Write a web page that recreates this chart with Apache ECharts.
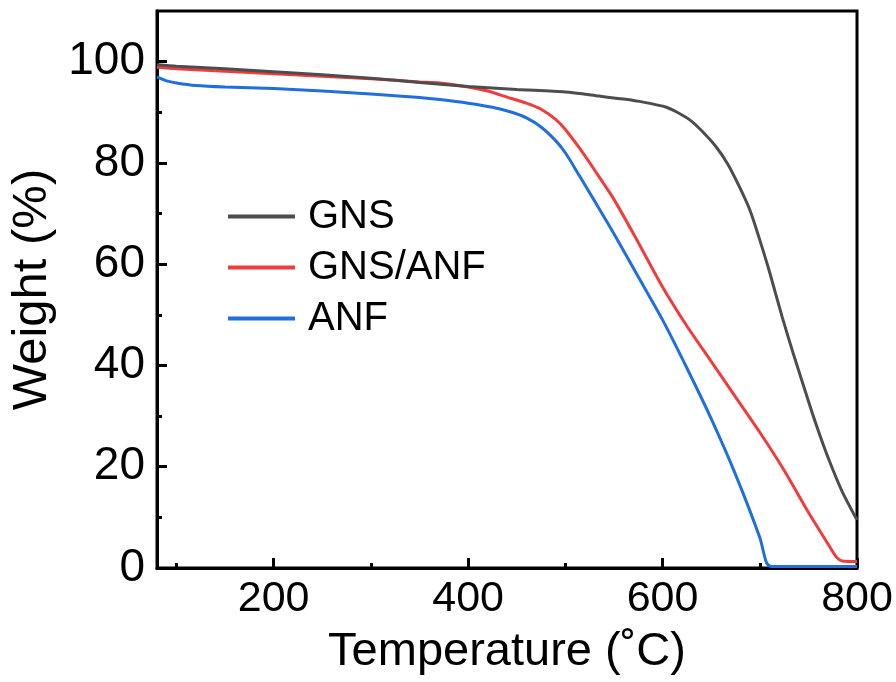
<!DOCTYPE html>
<html>
<head>
<meta charset="utf-8">
<script src="https://cdn.jsdelivr.net/npm/echarts@6/dist/echarts.min.js"></script>
<style>html,body{margin:0;padding:0;background:#fff;}#c{width:896px;height:682px;}</style>
</head>
<body>
<div id="c"></div>
<script>
// ---- data ----
const gnsT = [80,100,150,200,250,300,350,400,450,500,535,560,580,604,615,628,640,655,667,679,690,699,710,723,735,745,755,765,775,785,800];
const gnsW = [99.4,99.1,98.6,98.0,97.4,96.7,95.9,95.1,94.5,94.0,93.2,92.6,92.0,91.0,90.0,88.5,86.4,83.2,79.8,75.3,70.6,65.4,58.5,49.6,42.0,36.0,30.0,24.5,19.5,15.0,9.5];
const gnsAnfT = [80,100,150,200,250,300,350,371,400,420,440,460,475,490,500,515,530,550,575,600,625,650,675,700,725,750,770,779,785,800];
const gnsAnfW = [98.9,98.6,98.1,97.6,97.1,96.6,96.0,95.8,95.0,94.2,93.0,91.8,90.6,88.6,86.6,82.8,78.6,72.8,64.3,55.5,47.8,40.8,33.8,26.8,19.3,11.0,4.8,2.1,1.4,1.3];
const anfT = [80,90,100,120,150,200,250,300,350,371,400,425,445,460,475,490,500,515,530,550,575,600,625,650,675,700,707,712,750,800];
const anfW = [97.0,96.2,95.8,95.3,95.0,94.7,94.2,93.6,92.9,92.5,91.8,91.0,90.0,88.9,87.1,84.4,82.0,77.3,72.5,66.0,57.5,49.0,39.5,29.5,18.5,6.0,1.0,0.3,0.3,0.3];
const seriesNames = ['GNS','GNS/ANF','ANF'];
const xMajorTicks = [200,400,600,800];
const xMinorTicks = [100,300,500,700];
const yMajorTicks = [0,20,40,60,80,100];
const yMinorTicks = [10,30,50,70,90];

function pairs(t, w){ return t.map((v,i)=>[v,w[i]]); }

const chart = echarts.init(document.getElementById('c'), null, {renderer:'canvas'});
const FONT = 'Liberation Sans, Arial, sans-serif';
const axisLineStyle = {color:'#000', width:3};
const option = {
  animation:false,
  backgroundColor:'#fff',
  grid:{left:157, right:39, top:11, bottom:114, show:true, borderColor:'#000', borderWidth:3, backgroundColor:'transparent'},
  legend:{
    orient:'vertical', left:228, top:191, padding:0, icon:'rect', itemWidth:67, itemHeight:4, itemGap:0,
    data:seriesNames,
    textStyle:{fontFamily:FONT, fontSize:40, color:'#000', lineHeight:51, padding:[0,0,0,8]}
  },
  xAxis:[{
    type:'value', min:80, max:800, position:'bottom',
    name:'Temperature (\u02DAC)', nameLocation:'middle', nameGap:61,
    nameTextStyle:{fontFamily:FONT, fontSize:47, color:'#000'},
    axisLine:{show:true, onZero:false, lineStyle:axisLineStyle},
    axisTick:{show:true, inside:true, length:10, customValues:xMajorTicks, lineStyle:{color:'#000', width:3}},
    axisLabel:{show:true, margin:10, customValues:xMajorTicks, fontFamily:FONT, fontSize:43, color:'#000'},
    splitLine:{show:false}
  },{
    type:'value', min:80, max:800, position:'bottom', offset:0,
    axisLine:{show:false},
    axisTick:{show:true, inside:true, length:5, customValues:xMinorTicks, lineStyle:{color:'#000', width:3}},
    axisLabel:{show:false},
    splitLine:{show:false}
  }],
  yAxis:[{
    type:'value', min:0, max:110, position:'left',
    name:'Weight (%)', nameLocation:'middle', nameGap:100, nameRotate:90,
    nameTextStyle:{fontFamily:FONT, fontSize:49, color:'#000'},
    axisLine:{show:true, onZero:false, lineStyle:axisLineStyle},
    axisTick:{show:true, inside:true, length:10, customValues:yMajorTicks, lineStyle:{color:'#000', width:3}},
    axisLabel:{show:true, margin:12, customValues:yMajorTicks, fontFamily:FONT, fontSize:46, color:'#000'},
    splitLine:{show:false}
  },{
    type:'value', min:0, max:110, position:'left', offset:0,
    axisLine:{show:false},
    axisTick:{show:true, inside:true, length:5, customValues:yMinorTicks, lineStyle:{color:'#000', width:3}},
    axisLabel:{show:false},
    splitLine:{show:false}
  }],
  series:[
    {name:seriesNames[0], type:'line', data:pairs(gnsT,gnsW), showSymbol:false, symbol:'none', smooth:0.25,
     lineStyle:{color:'#4d4d4d', width:3}, itemStyle:{color:'#4d4d4d'}, z:3},
    {name:seriesNames[1], type:'line', data:pairs(gnsAnfT,gnsAnfW), showSymbol:false, symbol:'none', smooth:0.25,
     lineStyle:{color:'#f03c3c', width:3}, itemStyle:{color:'#f03c3c'}, z:2},
    {name:seriesNames[2], type:'line', data:pairs(anfT,anfW), showSymbol:false, symbol:'none', smooth:0.25,
     lineStyle:{color:'#1f6fdc', width:3}, itemStyle:{color:'#1f6fdc'}, z:2}
  ]
};
chart.setOption(option);
</script>
</body>
</html>
